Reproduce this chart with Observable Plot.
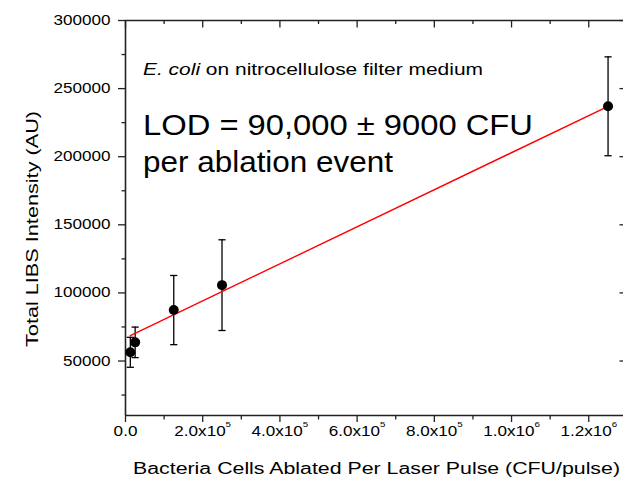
<!DOCTYPE html>
<html>
<head>
<meta charset="utf-8">
<script src="https://cdn.jsdelivr.net/npm/d3@7"></script>
<script src="https://cdn.jsdelivr.net/npm/@observablehq/plot@0.6"></script>
<style>
  html, body { margin: 0; padding: 0; background: white; overflow: hidden; }
  svg { display: block; }
</style>
</head>
<body>
<script>
// ---- data ----
const cellsPerPulse = [12500, 25000, 125000, 250000, 1250000];
const libsIntensity = [56400, 63700, 87400, 105700, 237000];
const intensityError = [11000, 11200, 25400, 33300, 36300];

const fitX = [12500, 1250000];
const fitY = [68600, 237000];

const xTicks = [0, 200000, 400000, 600000, 800000, 1000000, 1200000];
const xTickMantissa = ["0.0", "2.0", "4.0", "6.0", "8.0", "1.0", "1.2"];
const xTickExponent = ["", "5", "5", "5", "5", "6", "6"];
const xMinorTicks = [100000, 300000, 500000, 700000, 900000, 1100000];

const yTicks = [50000, 100000, 150000, 200000, 250000, 300000];
const yMinorTicks = [25000, 75000, 125000, 175000, 225000, 275000];

const xDomain = [0, 1290000];
const yDomain = [10000, 300000];

const xTitle = "Bacteria Cells Ablated Per Laser Pulse (CFU/pulse)";
const yTitle = "Total LIBS Intensity (AU)";
const noteItalic = "E. coli";
const noteRest = " on nitrocellulose filter medium";
const lodLine1 = "LOD = 90,000 \u00B1 9000 CFU";
const lodLine2 = "per ablation event";

// ---- tables built from arrays ----
const points = cellsPerPulse.map((x, i) => ({x, y: libsIntensity[i], err: intensityError[i]}));
const fit = fitX.map((x, i) => ({x, y: fitY[i]}));
const xLabel = new Map(xTicks.map((t, i) => [t, xTickMantissa[i] + (xTickExponent[i] ? "x10^" + xTickExponent[i] : "")]));

// custom tick-like symbols
const hSeg = (a, b) => ({draw(ctx) { ctx.moveTo(a, 0); ctx.lineTo(b, 0); }});
const vSeg = (a, b) => ({draw(ctx) { ctx.moveTo(0, a); ctx.lineTo(0, b); }});

const axisColor = "#222";

const svg = Plot.plot({
  width: 623,
  height: 484,
  marginLeft: 125,
  marginRight: 0,
  marginTop: 20,
  marginBottom: 69,
  style: {fontFamily: "'Liberation Sans', Arial, sans-serif", fontSize: "14px", color: "black", background: "white"},
  x: {domain: xDomain, label: null},
  y: {domain: yDomain, label: null},
  marks: [
    // frame lines
    Plot.ruleX([xDomain[0]], {stroke: axisColor, strokeWidth: 1.6}),
    Plot.ruleY([yDomain[0]], {stroke: axisColor, strokeWidth: 1.6}),
    Plot.ruleY([yDomain[1]], {stroke: axisColor, strokeWidth: 1.6}),
    // main axes
    Plot.axisY({ticks: yTicks, anchor: "left", tickSize: 7, tickPadding: 8, tickFormat: d3.format("d"), stroke: axisColor, strokeWidth: 1.3}),
    Plot.axisX({ticks: xTicks, anchor: "bottom", tickSize: 7, tickPadding: 4, tickFormat: d => xLabel.get(d), stroke: axisColor, strokeWidth: 1.3}),
    // minor outward ticks
    Plot.dot(yMinorTicks, {x: xDomain[0], y: d => d, symbol: hSeg(-4, 0), r: 3, fill: "none", stroke: axisColor, strokeWidth: 1.3}),
    Plot.dot(xMinorTicks, {x: d => d, y: yDomain[0], symbol: vSeg(0, 4), r: 3, fill: "none", stroke: axisColor, strokeWidth: 1.3}),
    // top axis inward ticks
    Plot.dot(xTicks, {x: d => d, y: yDomain[1], symbol: vSeg(0, 7), r: 3, fill: "none", stroke: axisColor, strokeWidth: 1.3}),
    Plot.dot(xMinorTicks, {x: d => d, y: yDomain[1], symbol: vSeg(0, 3.5), r: 3, fill: "none", stroke: axisColor, strokeWidth: 1.3}),
    // right axis inward ticks
    Plot.dot(yTicks, {x: xDomain[1], y: d => d, symbol: hSeg(-4, 0), r: 3, fill: "none", stroke: axisColor, strokeWidth: 1.3}),
    // error bars
    Plot.ruleX(points, {x: "x", y1: d => d.y - d.err, y2: d => d.y + d.err, stroke: "black", strokeWidth: 1.3}),
    Plot.dot(points, {x: "x", y: d => d.y + d.err, symbol: hSeg(-3.6, 3.6), r: 3, fill: "none", stroke: "black", strokeWidth: 1.3}),
    Plot.dot(points, {x: "x", y: d => d.y - d.err, symbol: hSeg(-3.6, 3.6), r: 3, fill: "none", stroke: "black", strokeWidth: 1.3}),
    // linear fit
    Plot.line(fit, {x: "x", y: "y", stroke: "red", strokeWidth: 1.4}),
    // data points
    Plot.dot(points, {x: "x", y: "y", r: 5, fill: "black", stroke: "none"})
  ]
});

document.body.append(svg);

const root = d3.select(svg);

// superscripts on x tick labels
root.selectAll('g[aria-label="x-axis tick label"] text').each(function() {
  const t = this.textContent;
  if (t.includes("^")) {
    const [base, exp] = t.split("^");
    const sel = d3.select(this);
    sel.text(null);
    sel.append("tspan").text(base);
    sel.append("tspan").attr("font-size", 8).attr("dy", -9).text(exp);
  }
});

// widen tick labels like the reference
function stretch(el, factor) {
  const w = el.getComputedTextLength();
  el.setAttribute("textLength", (w * factor).toFixed(1));
  el.setAttribute("lengthAdjust", "spacingAndGlyphs");
}
root.selectAll('g[aria-label="x-axis tick label"] text, g[aria-label="y-axis tick label"] text').each(function() { stretch(this, 1.22); });

// axis titles
root.append("text")
  .attr("x", 376.5).attr("y", 474)
  .attr("text-anchor", "middle")
  .attr("font-size", 16)
  .attr("fill", "black")
  .attr("textLength", 487).attr("lengthAdjust", "spacingAndGlyphs")
  .text(xTitle);

root.append("text")
  .attr("transform", "translate(37.5,229) rotate(-90)")
  .attr("text-anchor", "middle")
  .attr("font-size", 17)
  .attr("fill", "black")
  .attr("textLength", 236).attr("lengthAdjust", "spacingAndGlyphs")
  .text(yTitle);

// annotations
const note = root.append("text")
  .attr("x", 143).attr("y", 75)
  .attr("text-anchor", "start")
  .attr("font-size", 16)
  .attr("fill", "black")
  .attr("textLength", 340).attr("lengthAdjust", "spacingAndGlyphs");
note.append("tspan").attr("font-style", "italic").text(noteItalic);
note.append("tspan").text(noteRest);

root.append("text")
  .attr("x", 143).attr("y", 135)
  .attr("text-anchor", "start")
  .attr("font-size", 30)
  .attr("fill", "black")
  .attr("textLength", 390).attr("lengthAdjust", "spacingAndGlyphs")
  .text(lodLine1);

root.append("text")
  .attr("x", 143).attr("y", 171.5)
  .attr("text-anchor", "start")
  .attr("font-size", 30)
  .attr("fill", "black")
  .attr("textLength", 250).attr("lengthAdjust", "spacingAndGlyphs")
  .text(lodLine2);
</script>
</body>
</html>
